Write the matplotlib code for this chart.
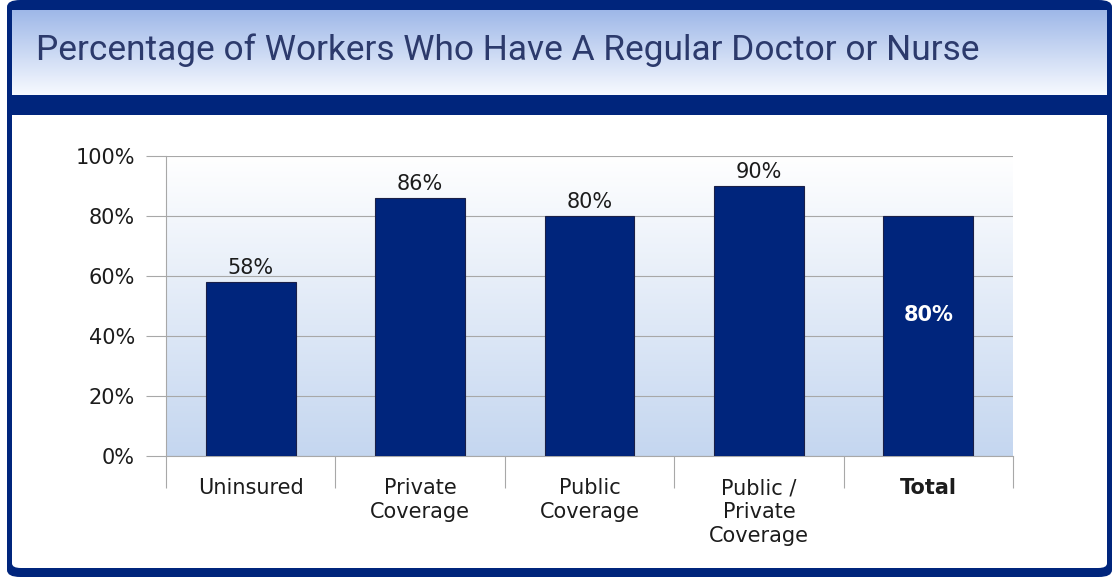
import numpy as np
import matplotlib.pyplot as plt
from matplotlib.patches import FancyBboxPatch, Rectangle

# =====================================================
# Data
# =====================================================
categories = ["Uninsured", "Private\nCoverage", "Public\nCoverage",
              "Public /\nPrivate\nCoverage", "Total"]
values = [58, 86, 80, 90, 80]
value_labels = ["58%", "86%", "80%", "90%", "80%"]
y_ticks = [0, 20, 40, 60, 80, 100]
y_tick_labels = ["0%", "20%", "40%", "60%", "80%", "100%"]
title = "Percentage of Workers Who Have A Regular Doctor or Nurse"

navy = "#00257c"
grid_gray = "#a8a8a8"
text_dark = "#1c1c1c"

W, H = 1113, 578
fig = plt.figure(figsize=(W / 100, H / 100), dpi=100)
fig.patch.set_facecolor("white")

def fx(px):
    return px / W

def fy(py):
    return 1 - py / H

# =====================================================
# Frame, banner and band
# =====================================================
outer = FancyBboxPatch((fx(7), fy(577)), fx(1112) - fx(7), fy(0) - fy(577),
                       boxstyle="round,pad=0,rounding_size=0.012",
                       transform=fig.transFigure, facecolor=navy,
                       edgecolor="none", zorder=-3)
fig.patches.append(outer)

# white content area: rounded at the bottom, square at the top
inner = FancyBboxPatch((fx(12), fy(568)), fx(1107) - fx(12), fy(140) - fy(568),
                       boxstyle="round,pad=0,rounding_size=0.008",
                       transform=fig.transFigure, facecolor="white",
                       edgecolor="none", zorder=-2)
fig.patches.append(inner)
inner_top = Rectangle((fx(12), fy(150)), fx(1107) - fx(12), fy(115) - fy(150),
                      transform=fig.transFigure, facecolor="white",
                      edgecolor="none", zorder=-2)
fig.patches.append(inner_top)

# banner with gradient
ax_b = fig.add_axes([fx(12), fy(95), fx(1107) - fx(12), fy(10) - fy(95)])
top_c = np.array([0.62, 0.72, 0.91])
bot_c = np.array([0.97, 0.98, 1.0])
t = np.linspace(0, 1, 256)[:, None]
grad = top_c * (1 - t[..., None]) + bot_c * t[..., None]
grad = np.repeat(grad, 2, axis=1)
ax_b.imshow(grad, aspect="auto", extent=[0, 1, 0, 1])
ax_b.set_axis_off()

fig.text(fx(36), fy(50), title, fontsize=25.4, color="#2c3a6c",
         ha="left", va="center", family=["Roboto", "DejaVu Sans"])

# =====================================================
# Bar chart
# =====================================================
ax = fig.add_axes([fx(166), fy(456), fx(1013) - fx(166), fy(156) - fy(456)])
x = np.arange(len(categories))

# gradient background in plot area
bg_top = np.array([1.0, 1.0, 1.0])
bg_bot = np.array([0.77, 0.84, 0.94])
bg = bg_top * (1 - t[..., None]) + bg_bot * t[..., None]
bg = np.repeat(bg, 2, axis=1)
ax.imshow(bg, aspect="auto", extent=[-0.5, len(categories) - 0.5, 0, 100],
          zorder=0)

ax.bar(x, values, width=0.53, color=navy, edgecolor="#1a2048",
       linewidth=0.8, zorder=3)

for i, (v, lab) in enumerate(zip(values, value_labels)):
    if i == len(values) - 1:
        ax.text(i, 47, lab, ha="center", va="center", color="white",
                fontsize=15, fontweight="bold", zorder=4)
    else:
        ax.text(i, v + 1.2, lab, ha="center", va="bottom", color=text_dark,
                fontsize=15, zorder=4)

ax.set_xlim(-0.5, len(categories) - 0.5)
ax.set_ylim(0, 100)

ax.set_yticks(y_ticks)
ax.set_yticklabels(y_tick_labels, fontsize=15, color=text_dark)
ax.tick_params(axis="y", length=14.4, width=0.8, color=grid_gray, pad=8)
ax.yaxis.grid(True, color=grid_gray, linewidth=0.8, zorder=1)
ax.set_axisbelow(True)

ax.set_xticks(x)
ax.set_xticklabels(categories, fontsize=15, color=text_dark, linespacing=1.25)
ax.get_xticklabels()[-1].set_fontweight("bold")
ax.tick_params(axis="x", which="major", length=0, pad=16)
ax.set_xticks(np.arange(-0.5, len(categories)), minor=True)
ax.tick_params(axis="x", which="minor", length=23, width=0.8, color=grid_gray)

for side in ["top", "right"]:
    ax.spines[side].set_visible(False)
ax.spines["left"].set_color(grid_gray)
ax.spines["left"].set_linewidth(0.8)
ax.spines["bottom"].set_color(grid_gray)
ax.spines["bottom"].set_linewidth(0.8)

fig.savefig("out.png", dpi=100, facecolor=fig.get_facecolor())
